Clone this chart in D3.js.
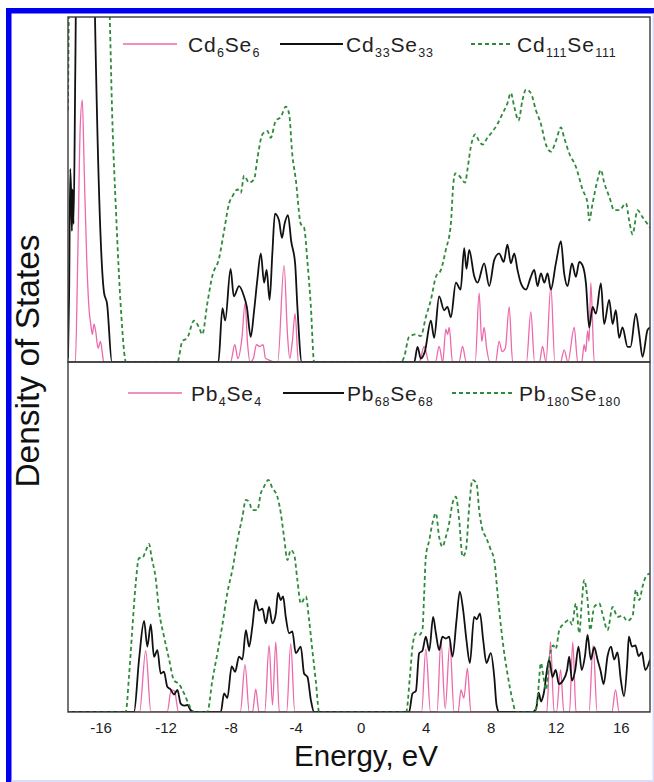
<!DOCTYPE html>
<html>
<head>
<meta charset="utf-8">
<script src="https://cdn.jsdelivr.net/npm/d3@7"></script>
<style>
  html, body { margin: 0; padding: 0; background: #fff; }
  svg { display: block; font-family: "Liberation Sans", Arial, sans-serif; }
</style>
</head>
<body>
<svg id="chart" width="654" height="782"></svg>
<script>
// energy (eV) vs density of states (arb. units, 0-100 per panel)
const xTicks = [-16, -12, -8, -4, 0, 4, 8, 12, 16];
const xTitle = 'Energy, eV';
const yTitle = 'Density of States';

// legend labels: [text, subscript, text, subscript]
const topLabels = [['Cd', '6', 'Se', '6'], ['Cd', '33', 'Se', '33'], ['Cd', '111', 'Se', '111']];
const bottomLabels = [['Pb', '4', 'Se', '4'], ['Pb', '68', 'Se', '68'], ['Pb', '180', 'Se', '180']];

const cd6 = [
  [-18, 0], [-17.55, 0], [-17.4, 30], [-17.25, 68], [-17.12, 76], [-17.0, 55], [-16.85, 30], [-16.7, 15],
  [-16.6, 11], [-16.5, 8], [-16.4, 11], [-16.3, 9], [-16.15, 4], [-16.0, 6], [-15.9, 3], [-15.8, 0],
  [-8.0, 0], [-7.74, 5], [-7.55, 1], [-7.3, 7], [-7.11, 17], [-6.95, 5], [-6.8, 0], [-6.6, 1], [-6.41, 5],
  [-6.2, 4.5], [-6.0, 5], [-5.85, 1], [-5.1, 0], [-4.71, 28], [-4.5, 8], [-4.36, 1], [-4.2, 6], [-4.03, 14],
  [-3.83, 0],
  [3.6, 0], [3.91, 4.5], [4.2, 0], [4.6, 0], [4.83, 4.5], [5.05, 0], [5.24, 9.5], [5.35, 8], [5.45, 10],
  [5.65, 0], [6.05, 0], [6.27, 4.5], [6.5, 0], [7.05, 0], [7.29, 20], [7.45, 6], [7.6, 10], [7.75, 4],
  [7.95, 0], [8.3, 0], [8.52, 6], [8.7, 3], [8.9, 4], [9.14, 16], [9.35, 0], [10.2, 0], [10.47, 14.5],
  [10.7, 0], [11.0, 0], [11.19, 4.5], [11.4, 0], [11.7, 22], [11.95, 0], [12.3, 0], [12.52, 3.5],
  [12.75, 0], [13.14, 10], [13.35, 0], [13.6, 0], [13.75, 5], [13.85, 3], [13.96, 9], [14.05, 6],
  [14.16, 23], [14.37, 0], [17.8, 0],
];

const cd33 = [
  [-18, 1], [-17.93, 20], [-17.86, 56], [-17.8, 48], [-17.76, 38], [-17.72, 50], [-17.66, 40],
  [-17.55, 85], [-17.45, 130], [-16.45, 130], [-16.34, 100], [-15.78, 20], [-15.6, 17], [-15.3, 0],
  [-8.75, 0], [-8.5, 15.6], [-8.33, 12], [-8.0, 27], [-7.8, 19], [-7.48, 22], [-7.17, 19], [-7.0, 16],
  [-6.76, 7.3], [-6.55, 15], [-6.35, 24], [-6.14, 31.5], [-5.94, 23], [-5.78, 26.7], [-5.6, 18],
  [-5.43, 31.5], [-5.27, 43], [-5.02, 41], [-4.84, 36], [-4.68, 40], [-4.47, 42.6], [-4.27, 35],
  [-4.03, 28.6], [-3.89, 16], [-3.62, 0],
  [3.3, 0], [3.5, 4.4], [3.7, 1], [3.95, 3], [4.32, 12], [4.52, 7], [4.83, 19], [5.14, 15], [5.34, 16],
  [5.55, 13], [5.86, 23], [6.15, 21], [6.37, 33], [6.51, 27], [6.68, 32.5], [6.98, 25], [7.19, 23],
  [7.6, 28.6], [7.91, 22], [8.22, 29.6], [8.52, 31.5], [8.8, 29], [9.03, 34], [9.24, 28.6], [9.45, 31.5],
  [9.65, 26.7], [9.86, 22.8], [10.17, 21], [10.47, 24.7], [10.68, 26.7], [10.88, 22], [11.09, 25.7],
  [11.3, 23], [11.5, 25.7], [11.7, 21], [12.01, 28.6], [12.32, 35], [12.52, 25.7], [12.73, 22], [13.0, 28.6],
  [13.24, 24.7], [13.45, 29], [13.65, 28], [13.86, 22.8], [14.06, 10], [14.27, 16], [14.47, 14],
  [14.78, 22.8], [14.98, 11], [15.29, 18], [15.5, 11], [15.7, 15], [15.9, 7], [16.11, 10], [16.42, 4.4],
  [16.6, 4.4], [16.93, 14], [17.14, 8], [17.34, 1.5], [17.65, 9.3], [17.8, 10],
];

const cd111 = [
  [-18, 73], [-17.85, 130], [-15.6, 130], [-15.43, 100], [-15.29, 73], [-15.05, 44], [-14.74, 15], [-14.43, 0],
  [-11.27, 0], [-10.97, 6], [-10.66, 7], [-10.25, 12], [-9.94, 10], [-9.74, 8], [-9.43, 17], [-9.12, 25],
  [-8.71, 30], [-8.4, 38], [-8.09, 46], [-7.89, 48], [-7.58, 50], [-7.37, 49], [-7.17, 54], [-6.86, 52],
  [-6.55, 53], [-6.35, 59], [-6.04, 66], [-5.74, 67], [-5.53, 65], [-5.22, 70], [-4.91, 71], [-4.6, 74],
  [-4.4, 72], [-4.2, 60], [-3.99, 53], [-3.68, 40], [-3.48, 39], [-3.27, 29], [-3.06, 16], [-2.86, 0],
  [2.5, 0], [2.68, 1.5], [2.98, 7.3], [3.4, 8], [3.7, 7.5], [4.01, 13], [4.32, 18], [4.63, 24.7],
  [4.94, 26.7], [5.24, 32.5], [5.55, 40], [5.69, 51], [5.82, 54.7], [6.06, 54], [6.43, 52], [6.57, 55.7],
  [6.78, 62.4], [7.05, 66], [7.29, 64], [7.5, 63], [7.8, 65], [8.11, 66.8], [8.42, 69], [8.73, 72],
  [9.03, 75], [9.24, 78], [9.45, 74], [9.71, 70], [9.96, 76], [10.17, 79], [10.47, 78], [10.78, 73],
  [11.09, 69], [11.4, 63], [11.7, 61], [12.01, 64], [12.32, 68], [12.52, 65], [12.83, 60.5], [13.24, 56.6],
  [13.65, 50], [13.96, 46], [14.06, 41], [14.27, 46], [14.57, 52.7], [14.78, 55.7], [14.98, 52],
  [15.29, 48], [15.6, 44], [15.91, 44], [16.32, 46], [16.52, 41], [16.73, 37], [17.03, 44], [17.34, 42],
  [17.8, 39],
];

const pb4 = [
  [-18, 0], [-13.6, 0], [-13.22, 17.5], [-12.9, 0], [-11.9, 0], [-11.65, 6.3], [-11.45, 6], [-11.2, 0],
  [-7.4, 0], [-7.11, 13.5], [-6.85, 0], [-6.65, 0], [-6.45, 6.5], [-6.25, 0], [-5.9, 0], [-5.63, 19],
  [-5.42, 2], [-5.22, 20], [-5.0, 0], [-4.55, 0], [-4.3, 19.5], [-4.05, 0],
  [3.75, 0], [4.01, 18], [4.3, 0], [4.7, 0], [4.94, 20.5], [5.2, 1], [5.49, 19.6], [5.75, 0], [6.0, 0],
  [6.17, 6.3], [6.35, 4], [6.57, 12.5], [6.78, 0],
  [11.45, 0], [11.68, 20], [11.9, 0], [12.05, 0], [12.3, 12], [12.5, 0], [12.85, 0], [13.05, 20],
  [13.25, 0], [14.05, 0], [14.3, 19], [14.55, 0], [15.45, 0], [15.68, 6.3], [15.9, 0], [17.8, 0],
];

const pb68 = [
  [-18, 0], [-13.94, 0], [-13.63, 15], [-13.32, 26], [-13.12, 18.7], [-12.91, 25], [-12.71, 15.8],
  [-12.5, 17.7], [-12.3, 11], [-12.1, 11.5], [-11.89, 7.2], [-11.7, 6.5], [-11.48, 5], [-11.27, 6.3],
  [-11.07, 2.4], [-10.86, 1.8], [-10.66, 2], [-10.45, 0.5], [-10.25, 0],
  [-8.6, 0], [-8.4, 5.3], [-8.2, 4], [-7.93, 13], [-7.72, 11.5], [-7.48, 15.8], [-7.27, 15], [-7.06, 23.4],
  [-6.86, 18.7], [-6.66, 24.4], [-6.45, 32], [-6.25, 29], [-6.04, 29.5], [-5.83, 25.3], [-5.63, 30],
  [-5.43, 25.3], [-5.22, 28], [-5.08, 34], [-4.91, 32], [-4.77, 33], [-4.6, 27], [-4.4, 22.5], [-4.2, 23],
  [-3.99, 16.8], [-3.68, 18.7], [-3.48, 11], [-3.27, 10], [-3.06, 3.4], [-2.86, 0],
  [2.98, 0], [3.19, 5.3], [3.4, 6], [3.6, 16.8], [3.8, 17.5], [4.01, 21.5], [4.22, 17.5], [4.46, 27.2],
  [4.63, 22.5], [4.83, 17.7], [5.03, 21.5], [5.24, 21], [5.45, 21.5], [5.65, 15.8], [5.9, 26.3],
  [6.1, 34.4], [6.31, 29], [6.51, 20.5], [6.72, 14], [6.98, 27.2], [7.15, 26.5], [7.34, 28.2],
  [7.54, 20.5], [7.74, 14], [8.01, 16.8], [8.22, 10], [8.36, 2], [8.52, 0],
  [10.6, 0], [10.8, 1], [10.95, 5.5], [11.1, 3], [11.25, 5], [11.6, 15], [11.8, 10], [12.0, 12],
  [12.2, 8], [12.45, 9], [12.7, 12], [12.83, 15.8], [13.0, 9], [13.2, 12], [13.4, 18.7], [13.6, 12],
  [13.8, 16], [13.96, 22], [14.16, 15], [14.37, 18.5], [14.57, 15], [14.75, 12], [14.95, 8], [15.19, 16],
  [15.4, 18.7], [15.6, 15], [15.8, 17], [16.01, 9], [16.2, 4.5], [16.4, 14], [16.5, 21.5], [16.69, 18.7],
  [16.9, 19], [17.1, 16], [17.3, 17], [17.51, 12], [17.8, 15],
];

const pb180 = [
  [-18, 0], [-14.45, 0], [-14.25, 10], [-14.04, 24], [-13.83, 37], [-13.63, 44], [-13.43, 44],
  [-13.22, 46], [-13.02, 48], [-12.85, 44], [-12.6, 38], [-12.4, 29], [-12.09, 21.5], [-11.78, 15],
  [-11.48, 9], [-11.17, 8], [-10.86, 5.3], [-10.55, 2], [-10.25, 0],
  [-9.43, 0], [-9.12, 9], [-8.81, 16.8], [-8.5, 25], [-8.2, 34], [-7.89, 40.6], [-7.58, 49], [-7.27, 55.8],
  [-7.06, 60.6], [-6.86, 60], [-6.66, 57.7], [-6.35, 57.7], [-6.14, 62.5], [-5.94, 64.4], [-5.67, 66.3],
  [-5.43, 64], [-5.12, 61.5], [-4.91, 56.8], [-4.71, 50], [-4.5, 43.4], [-4.3, 46.3], [-4.09, 45],
  [-3.89, 37.7], [-3.68, 31], [-3.37, 33], [-3.17, 26.3], [-2.97, 17.7], [-2.76, 9], [-2.55, 0],
  [2.8, 0], [3.03, 10], [3.19, 18.7], [3.4, 22.5], [3.6, 22], [3.8, 23.4], [3.91, 34], [4.01, 44.4],
  [4.22, 49], [4.42, 54], [4.63, 56.8], [4.83, 50], [5.03, 47.2], [5.24, 50], [5.45, 54], [5.65, 59.6],
  [5.86, 61.5], [6.06, 55], [6.27, 44.4], [6.47, 46], [6.68, 58.7], [6.88, 66.3], [7.13, 65.3],
  [7.29, 57.7], [7.5, 52], [7.7, 50], [8.01, 46.3], [8.22, 43.4], [8.42, 34], [8.73, 20.5], [9.03, 11],
  [9.34, 3.4], [9.55, 0],
  [10.7, 0], [10.9, 5], [11.09, 14], [11.25, 10], [11.4, 6.3], [11.6, 15], [11.85, 19], [12.0, 18],
  [12.22, 23.4], [12.52, 25.3], [12.83, 26.3], [13.0, 25], [13.24, 31], [13.45, 22.5], [13.6, 31],
  [13.75, 37.7], [13.96, 32], [14.12, 23.4], [14.37, 30], [14.68, 31], [14.88, 28], [15.19, 23.4],
  [15.5, 30], [15.8, 27.2], [16.11, 27.5], [16.4, 26], [16.73, 27.5], [16.93, 34.9], [17.14, 32],
  [17.34, 35.8], [17.55, 38.7], [17.8, 39.6],
];

const svg = d3.select('#chart');
const left = 68;
const right = 650;
const panels = [
  { top: 17, bottom: 362, series: [cd6, cd33, cd111], labels: topLabels, legendY: 44, legendX: [[123, 177, 188], [280, 343, 346], [471, 512, 517]] },
  { top: 362, bottom: 712, series: [pb4, pb68, pb180], labels: bottomLabels, legendY: 393, legendX: [[128, 182, 191], [283, 344, 347], [452, 512, 519]] },
];

const styles = [
  { stroke: '#ec6aaa', width: 1.3, dash: null },
  { stroke: '#111', width: 1.8, dash: null },
  { stroke: '#2f8a3c', width: 1.8, dash: '4,3' },
];

const x = d3.scaleLinear().domain([-18, 17.8]).range([left, right]);

// blue page frame
svg.append('rect')
  .attr('x', 6).attr('y', 8).attr('width', 648).attr('height', 5.5)
  .attr('fill', '#0000f0');
svg.append('rect')
  .attr('x', 6).attr('y', 8).attr('width', 5.5).attr('height', 774)
  .attr('fill', '#0000f0');
svg.append('rect')
  .attr('x', 11.5).attr('y', 780).attr('width', 643).attr('height', 2)
  .attr('fill', '#dcdcfa');
svg.append('rect')
  .attr('x', 652.5).attr('y', 13.5).attr('width', 1.5).attr('height', 768)
  .attr('fill', '#dcdcfa');

panels.forEach((p, i) => {
  const y = d3.scaleLinear().domain([0, 100]).range([p.bottom, p.top]);
  const line = d3.line()
    .x(d => x(d[0]))
    .y(d => y(d[1]))
    .curve(d3.curveMonotoneX);

  const clipId = `clip${i}`;
  svg.append('clipPath').attr('id', clipId)
    .append('rect')
    .attr('x', left).attr('y', p.top)
    .attr('width', right - left).attr('height', p.bottom - p.top);

  const g = svg.append('g').attr('clip-path', `url(#${clipId})`);
  p.series.forEach((s, k) => {
    g.append('path')
      .datum(s)
      .attr('d', line)
      .attr('fill', 'none')
      .attr('stroke', styles[k].stroke)
      .attr('stroke-width', styles[k].width)
      .attr('stroke-dasharray', styles[k].dash)
      .attr('stroke-linejoin', 'round');
  });

  svg.append('rect')
    .attr('x', left).attr('y', p.top)
    .attr('width', right - left).attr('height', p.bottom - p.top)
    .attr('fill', 'none')
    .attr('stroke', '#3a3a3a')
    .attr('stroke-width', 1.4);

  // legend
  p.labels.forEach((parts, k) => {
    const [x1, x2, tx] = p.legendX[k];
    svg.append('line')
      .attr('x1', x1).attr('x2', x2)
      .attr('y1', p.legendY).attr('y2', p.legendY)
      .attr('stroke', styles[k].stroke)
      .attr('stroke-width', styles[k].width)
      .attr('stroke-dasharray', styles[k].dash);

    const text = svg.append('text')
      .attr('x', tx).attr('y', p.legendY + 7.5)
      .attr('font-size', 21)
      .attr('letter-spacing', 0.8)
      .attr('fill', '#222');
    parts.forEach((t, j) => {
      const sub = j % 2 === 1;
      text.append('tspan')
        .attr('font-size', sub ? 12.5 : 21)
        .attr('dy', sub ? 5 : (j === 0 ? 0 : -5))
        .attr('dx', sub ? 0.5 : 0)
        .text(t);
    });
  });
});

const xAxis = d3.axisBottom(x)
  .tickValues(xTicks)
  .tickSize(0)
  .tickPadding(10.5)
  .tickFormat(d => `${d}`);

svg.append('g')
  .attr('transform', `translate(0, ${panels[1].bottom})`)
  .call(xAxis)
  .call(g => g.select('.domain').remove())
  .selectAll('text')
  .attr('font-family', '"Liberation Sans", Arial, sans-serif')
  .attr('font-size', 15)
  .attr('fill', '#222');

svg.append('text')
  .attr('x', 366).attr('y', 766)
  .attr('text-anchor', 'middle')
  .attr('font-size', 29.5)
  .attr('fill', '#111')
  .text(xTitle);

svg.append('text')
  .attr('transform', 'translate(39, 361) rotate(-90)')
  .attr('text-anchor', 'middle')
  .attr('font-size', 33.5)
  .attr('fill', '#111')
  .text(yTitle);
</script>
</body>
</html>
